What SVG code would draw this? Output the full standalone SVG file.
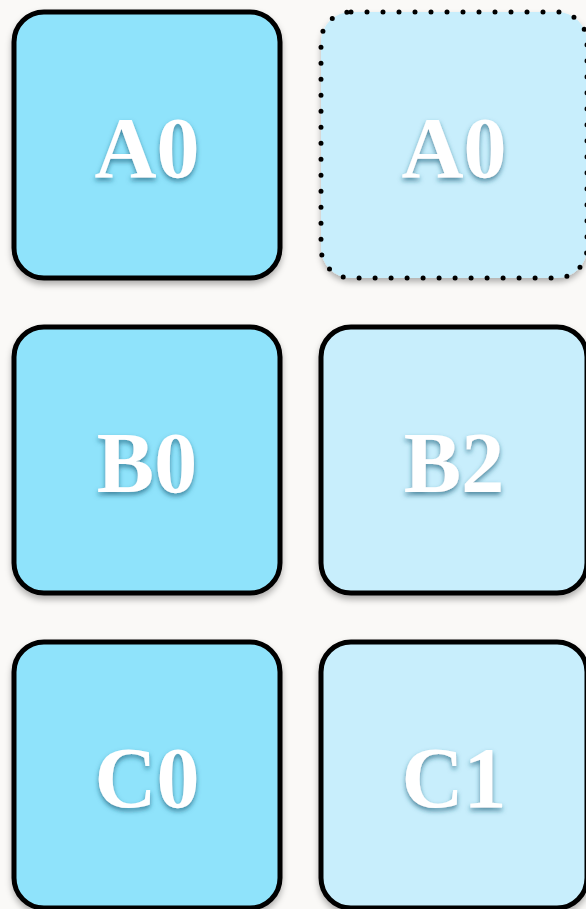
<svg xmlns="http://www.w3.org/2000/svg" width="586" height="909" viewBox="0 0 586 909">
<defs>
<filter id="bs" x="-10%" y="-10%" width="120%" height="125%"><feDropShadow dx="0" dy="4" stdDeviation="3" flood-color="#000" flood-opacity="0.3"/></filter>
<filter id="ts" x="-20%" y="-20%" width="140%" height="150%"><feDropShadow dx="0" dy="3" stdDeviation="2.5" flood-color="#1f5f78" flood-opacity="0.7"/></filter>
</defs>
<style>
.box{stroke:#000;stroke-width:5}
.l{fill:#8fe3fb}
.r{fill:#c8eefc}
.dot{stroke-dasharray:0 16;stroke-linecap:round;stroke-width:5}
text{font-family:"Liberation Serif","Times New Roman",serif;font-weight:bold;font-size:86px;fill:#fff;text-anchor:middle}
</style>
<rect width="586" height="909" fill="#faf9f7"/>
<g id="connectors"/>
<g id="nodeA0L"><rect class="box l" x="14" y="12" width="266" height="266" rx="30" filter="url(#bs)"/><text x="147" y="177" filter="url(#ts)">A0</text></g>
<g id="nodeA0R"><rect class="r" x="321" y="12" width="266" height="266" rx="30" filter="url(#bs)"/><rect class="box dot" x="321" y="12" width="266" height="266" rx="30" fill="none"/><text x="454" y="177" filter="url(#ts)">A0</text></g>
<g id="nodeB0"><rect class="box l" x="14" y="327" width="266" height="266" rx="30" filter="url(#bs)"/><text x="147" y="492" filter="url(#ts)">B0</text></g>
<g id="nodeB2"><rect class="box r" x="321" y="327" width="266" height="266" rx="30" filter="url(#bs)"/><text x="454" y="492" filter="url(#ts)">B2</text></g>
<g id="nodeC0"><rect class="box l" x="14" y="642" width="266" height="266" rx="30" filter="url(#bs)"/><text x="147" y="807" filter="url(#ts)">C0</text></g>
<g id="nodeC1"><rect class="box r" x="321" y="642" width="266" height="266" rx="30" filter="url(#bs)"/><text x="454" y="807" filter="url(#ts)">C1</text></g>
</svg>
